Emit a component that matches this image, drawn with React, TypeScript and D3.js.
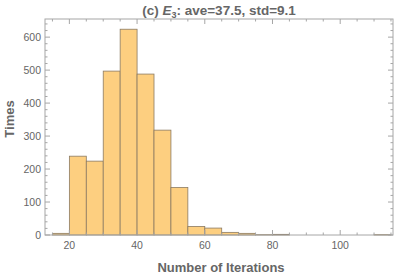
import React from "react";
import * as d3 from "d3";

// histogram bins (lower edge, width 5) and counts
const binStarts = [15, 20, 25, 30, 35, 40, 45, 50, 55, 60, 65, 70, 75, 80, 110];
const counts = [5, 239, 224, 497, 624, 488, 318, 144, 26, 21, 8, 5, 1, 2, 1];
const binWidth = 5;
const xTicks = [20, 40, 60, 80, 100];
const yTicks = [0, 100, 200, 300, 400, 500, 600];

const W = 399;
const H = 278;
const margin = { top: 19, right: 6, bottom: 43, left: 45 };
const font = "'Liberation Sans', Arial, sans-serif";
const frameColor = "#a6a6a6";
const labelColor = "#666";

export default function App() {
  const x = d3.scaleLinear().domain([12.8, 115.6]).range([margin.left, W - margin.right]);
  const y = d3.scaleLinear().domain([0, 655]).range([H - margin.bottom, margin.top]);

  const x0 = x.range()[0], x1 = x.range()[1];
  const y0 = y.range()[0], y1 = y.range()[1];

  const xMinor = d3.range(15, 116, 5).filter(v => v % 20 !== 0);
  const yMinor = d3.range(20, 655, 20).filter(v => v % 100 !== 0);

  return (
    <div style={{ position: "absolute", left: 0, top: 0 }}>
      <svg width={W} height={H} style={{ display: "block", background: "#fff" }}>
        {/* bars */}
        {binStarts.map((b, i) => (
          <rect
            key={b}
            x={x(b)}
            y={y(counts[i])}
            width={x(b + binWidth) - x(b)}
            height={y(0) - y(counts[i])}
            fill="#fdcf80"
            stroke="#8c7b62"
            strokeWidth={0.8}
          />
        ))}

        {/* frame */}
        <rect x={x0} y={y1} width={x1 - x0} height={y0 - y1} fill="none" stroke={frameColor} strokeWidth={1} />

        {/* x ticks */}
        {xTicks.map(t => (
          <g key={"x" + t}>
            <line x1={x(t)} x2={x(t)} y1={y0} y2={y0 - 5} stroke={frameColor} />
            <line x1={x(t)} x2={x(t)} y1={y1} y2={y1 + 5} stroke={frameColor} />
            <text x={x(t)} y={y0 + 14} textAnchor="middle" fontFamily={font} fontSize={10.5} fill={labelColor}>
              {t}
            </text>
          </g>
        ))}
        {xMinor.map(t => (
          <g key={"xm" + t}>
            <line x1={x(t)} x2={x(t)} y1={y0} y2={y0 - 2.5} stroke={frameColor} />
            <line x1={x(t)} x2={x(t)} y1={y1} y2={y1 + 2.5} stroke={frameColor} />
          </g>
        ))}

        {/* y ticks */}
        {yTicks.map(t => (
          <g key={"y" + t}>
            <line x1={x0} x2={x0 + 5} y1={y(t)} y2={y(t)} stroke={frameColor} />
            <line x1={x1} x2={x1 - 5} y1={y(t)} y2={y(t)} stroke={frameColor} />
            <text x={x0 - 4} y={y(t) + 3.6} textAnchor="end" fontFamily={font} fontSize={10.5} fill={labelColor}>
              {t}
            </text>
          </g>
        ))}
        {yMinor.map(t => (
          <g key={"ym" + t}>
            <line x1={x0} x2={x0 + 2.5} y1={y(t)} y2={y(t)} stroke={frameColor} />
            <line x1={x1} x2={x1 - 2.5} y1={y(t)} y2={y(t)} stroke={frameColor} />
          </g>
        ))}

        {/* title */}
        <text x={(x0 + x1) / 2} y={15} textAnchor="middle" fontFamily={font} fontSize={13.5} fontWeight="bold" fill={labelColor}>
          (c) <tspan fontStyle="italic">E</tspan>
          <tspan fontSize={9} dy={3}>3</tspan>
          <tspan dy={-3}>: ave=37.5, std=9.1</tspan>
        </text>

        {/* axis labels */}
        <text x={(x0 + x1) / 2 + 2} y={272} textAnchor="middle" fontFamily={font} fontSize={13} fontWeight="bold" fill={labelColor}>
          Number of Iterations
        </text>
        <text
          transform={`translate(14,119) rotate(-90)`}
          textAnchor="middle"
          fontFamily={font}
          fontSize={13}
          fontWeight="bold"
          fill={labelColor}
        >
          Times
        </text>
      </svg>
    </div>
  );
}
